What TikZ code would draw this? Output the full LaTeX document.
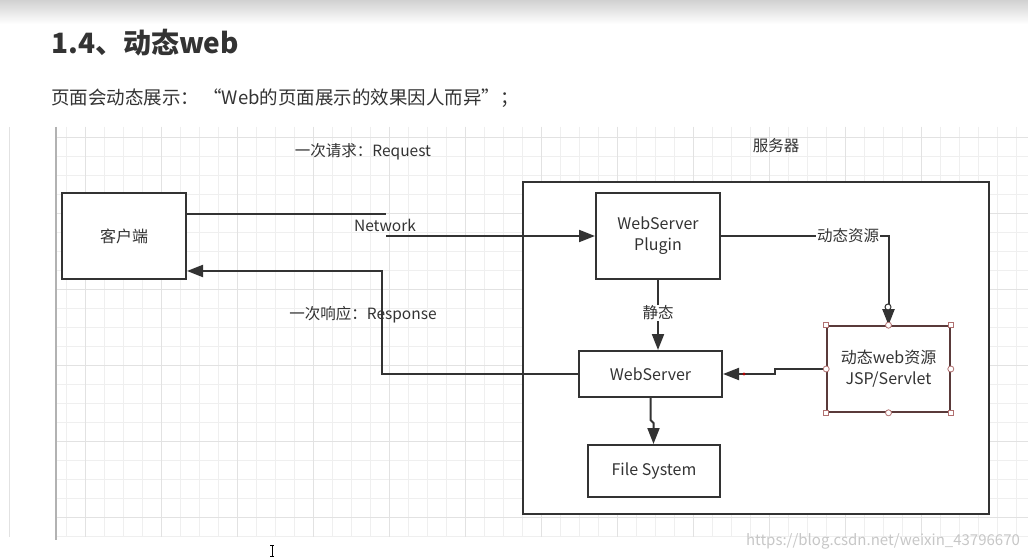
\documentclass[tikz,border=0pt]{standalone}
\usepackage{fontspec}
\setmainfont{Noto Sans CJK SC}
\usetikzlibrary{arrows.meta}
\definecolor{ink}{HTML}{333333}
\definecolor{gridminor}{HTML}{EFEFEF}
\definecolor{gridmajor}{HTML}{E2E2E2}
\definecolor{selbrd}{HTML}{5A3A3A}
\definecolor{handle}{HTML}{B07070}
\tikzset{
  box/.style={draw=ink, line width=2pt, fill=white, text=ink, font=\fontsize{16}{21}\selectfont, align=center, inner sep=0pt},
  conn/.style={draw=ink, line width=2pt},
  arr/.style={conn, -{Triangle[length=16pt, width=12pt]}},
  lbl/.style={text=ink, font=\fontsize{15.5}{18}\selectfont, inner sep=1pt},
  lblbg/.style={lbl, fill=white},
  hsq/.style={draw=handle, fill=white, line width=0.8pt, minimum size=5pt, inner sep=0pt},
  hci/.style={draw=handle, fill=white, line width=0.8pt, circle, minimum size=6pt, inner sep=0pt},
}
\begin{document}
\begin{tikzpicture}[x=1pt, y=-1pt]
\useasboundingbox (0,0) rectangle (1028,559);
\fill[white] (0,0) rectangle (1028,559);
% top band
\shade[top color=black!18, bottom color=white] (0,0) rectangle (1028,24);
% title
\node[anchor=west, text=ink, font=\fontsize{28}{30}\selectfont\bfseries, inner sep=0pt] (title) at (51,43) {1.4、动态web};
\node[anchor=west, text=ink, font=\fontsize{18.5}{22}\selectfont, inner sep=0pt] (sub) at (51,98) {页面会动态展示： “Web的页面展示的效果因人而异”；};
% grid
\foreach \i in {0,...,50} {\draw[gridminor, line width=0.8pt] ({66+19*\i},127) -- ({66+19*\i},537);}
\foreach \j in {0,...,21} {\draw[gridminor, line width=0.8pt] (57,{137+19*\j}) -- (1028,{137+19*\j});}
\foreach \i in {0,...,12} {\draw[gridmajor, line width=0.8pt] ({9+76*\i},127) -- ({9+76*\i},537);}
\foreach \j in {0,...,5} {\draw[gridmajor, line width=0.8pt] (57,{137+76*\j}) -- (1028,{137+76*\j});}
\draw[black!30, line width=1.5pt] (56,127) -- (56,540);
% labels
\node[lbl] (req) at (363,152) {一次请求：Request};
\node[lbl] (srvlbl) at (776,146) {服务器};
% server box
\draw[ink, line width=2pt, fill=white] (523,182) rectangle (989,514);
% nodes
\node[box, minimum width=124pt, minimum height=86pt] (client) at (124,236) {客户端};
\node[box, minimum width=124pt, minimum height=86pt] (plugin) at (658,236) {WebServer\\Plugin};
\node[box, minimum width=143pt, minimum height=46pt] (ws) at (650.5,374) {WebServer};
\node[box, minimum width=132pt, minimum height=52pt] (fs) at (654,471) {File System};
\node[box, draw=selbrd, line width=1.6pt, minimum width=123pt, minimum height=86pt] (dyn) at (888.5,369) {动态web资源\\JSP/Servlet};
% request connector
\coordinate (n1) at (386,214);
\coordinate (n2) at (386,236);
\draw[conn] (client.east |- n1) -- (n1);
\draw[arr] (n2) -- (plugin.west);
\node[lbl] (net) at (385,225) {Network};
% response connector
\coordinate (r1) at (382,271);
\draw[arr] (ws.west) -| (r1) -- (r1 -| client.east);
\node[lbl] (resp) at (363,315) {一次响应：Response};
% static
\draw[arr] (plugin.south) -- (plugin.south |- ws.north);
\node[lblbg] (stat) at (658,313) {静态};
% dynamic
\draw[arr] (plugin.east) -| (dyn.north);
\node[lblbg] (dynlbl) at (848,236) {动态资源};
\node[hci, draw=ink, line width=1pt] (c0) at (888,307) {};
% dyn -> ws
\coordinate (d1) at (775,369);
\coordinate (d2) at (775,374);
\draw[arr] (dyn.west) -- (d1) -- (d2) -- (ws.east);
\fill[red!70!black] (744,374) circle (1.6pt);
% ws -> fs
\coordinate (f1) at (650.5,420);
\coordinate (f2) at (653.5,423);
\draw[arr] (ws.south) -- (f1) -- (f2) -- (f2 |- fs.north);
% selection handles
\foreach \a in {north west, north east, south west, south east} {\node[hsq] at (dyn.\a) {};}
\foreach \a in {north, south, west, east} {\node[hci] at (dyn.\a) {};}
% watermark
\node[text=black!22, font=\fontsize{15}{18}\selectfont, inner sep=0pt] (wm) at (883,541) {https://blog.csdn.net/weixin\_43796670};
% cursor
\draw[black, line width=0.7pt] (272,545) -- (272,556) (270,545) -- (274,545) (270,556) -- (274,556);
\end{tikzpicture}
\end{document}
